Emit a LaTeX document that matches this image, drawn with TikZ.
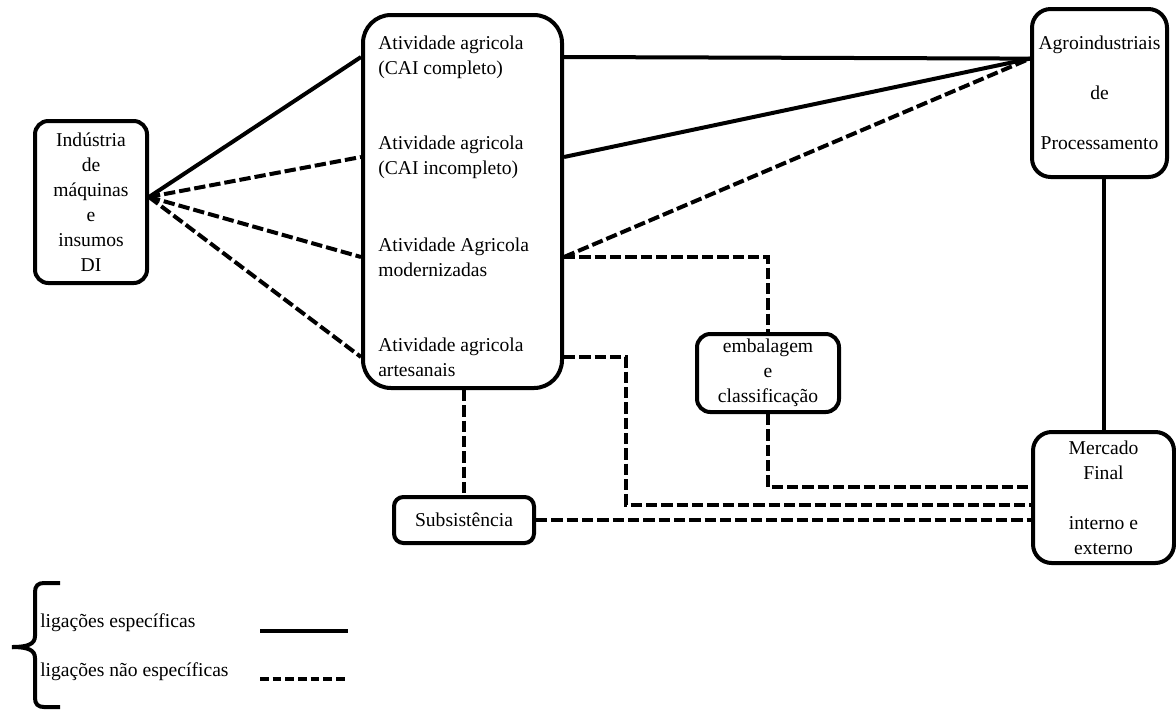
\documentclass[tikz,border=0pt]{standalone}
\usepackage{fontspec}
\setmainfont{Liberation Serif}
\usetikzlibrary{calc}
\newcommand{\txtdiag}{\fontsize{14.7pt}{18.75pt}\selectfont}
\tikzset{
  caixa/.style={draw, line width=3pt, rounded corners=10pt, align=center,
    font=\txtdiag, inner sep=0pt},
  ativ/.style={anchor=west, align=left, font=\txtdiag, inner sep=0pt},
  esp/.style={line width=3pt},
  naoesp/.style={line width=3pt, dash pattern=on 8.5pt off 3pt},
  naoespleg/.style={line width=3pt, dash pattern=on 6.5pt off 3pt},
  legtxt/.style={anchor=west, font=\txtdiag, inner sep=0pt}
}

\begin{document}
\begin{tikzpicture}[x=0.75pt, y=-0.75pt]
  \useasboundingbox (0,0) rectangle (1176,711);

  % caixas
  \node[caixa, minimum width=84pt, minimum height=121.5pt] (ind) at (91,202)
    {Indústria\\de\\máquinas\\e\\insumos\\DI};
  \node[caixa, rounded corners=21pt, minimum width=149.25pt, minimum height=279.75pt] (agri) at (462.5,201.5) {};
  \node[ativ] (ativ1) at (378,57) {Atividade agricola\\(CAI completo)};
  \node[ativ] (ativ2) at (378,157) {Atividade agricola\\(CAI incompleto)};
  \node[ativ] (ativ3) at (378,257) {Atividade Agricola\\modernizadas};
  \node[ativ] (ativ4) at (378,357) {Atividade agricola\\artesanais};
  \node[caixa, rounded corners=14pt, minimum width=101.25pt, minimum height=126pt] (agro) at (1099.5,93)
    {Agroindustriais\\[18.75pt]de\\[18.75pt]Processamento};
  \node[caixa, rounded corners=14pt, minimum width=105.75pt, minimum height=98.25pt] (merc) at (1103.5,497.5)
    {Mercado\\Final\\[18.75pt]interno e\\externo};
  \node[caixa, minimum width=106.5pt, minimum height=58.5pt] (emb) at (768,373)
    {embalagem\\e\\classificação};
  \node[caixa, rounded corners=7pt, minimum width=105pt, minimum height=34.5pt] (subs) at (464,520) {Subsistência};

  % ligacoes
  \coordinate (fan) at ($(ind.east)+(0,-5)$);
  \draw[esp] (fan) -- (agri.west |- ativ1);
  \draw[naoesp] (fan) -- (agri.west |- ativ2);
  \draw[naoesp] (fan) -- (agri.west |- ativ3);
  \draw[naoesp] (fan) -- (agri.west |- ativ4);

  \coordinate (agroin) at ($(agro.north west)!0.3!(agro.south west)$);
  \draw[esp] (agri.east |- ativ1) -- (agroin);
  \draw[esp] (agri.east |- ativ2) -- (agroin);
  \draw[naoesp] (agri.east |- ativ3) -- (agroin);
  \draw[naoesp] (agri.east |- ativ3) -| (emb.north);

  \coordinate (merc1) at ($(merc.west)+(0,-10.5)$);
  \coordinate (merc2) at ($(merc.west)+(0,7.5)$);
  \draw[naoesp] (emb.south) |- (merc1);
  \draw[naoesp] (agri.east |- ativ4) -- ++(62,0) |- (merc2);
  \draw[naoesp] (agri.south -| subs.north) -- (subs.north);
  \draw[naoesp] (subs.east) -- (subs.east -| merc.west);
  \draw[esp] (merc.north) -- (merc.north |- agro.south);

  % legenda
  \draw[esp] (60,583) -- (44,583) .. controls (38,583) and (35,586) .. (35,592) -- (35,636)
    .. controls (35,644) and (28,647) .. (12,647);
  \draw[esp] (60,707) -- (44,707) .. controls (38,707) and (35,704) .. (35,698) -- (35,658)
    .. controls (35,650) and (28,647) .. (12,647);
  \node[legtxt] (leg1) at (40,623) {ligações específicas};
  \node[legtxt] (leg2) at (40,672) {ligações não específicas};
  \draw[esp] (260,631) -- (348,631);
  \draw[naoespleg] (260,679) -- (348,679);
\end{tikzpicture}
\end{document}
